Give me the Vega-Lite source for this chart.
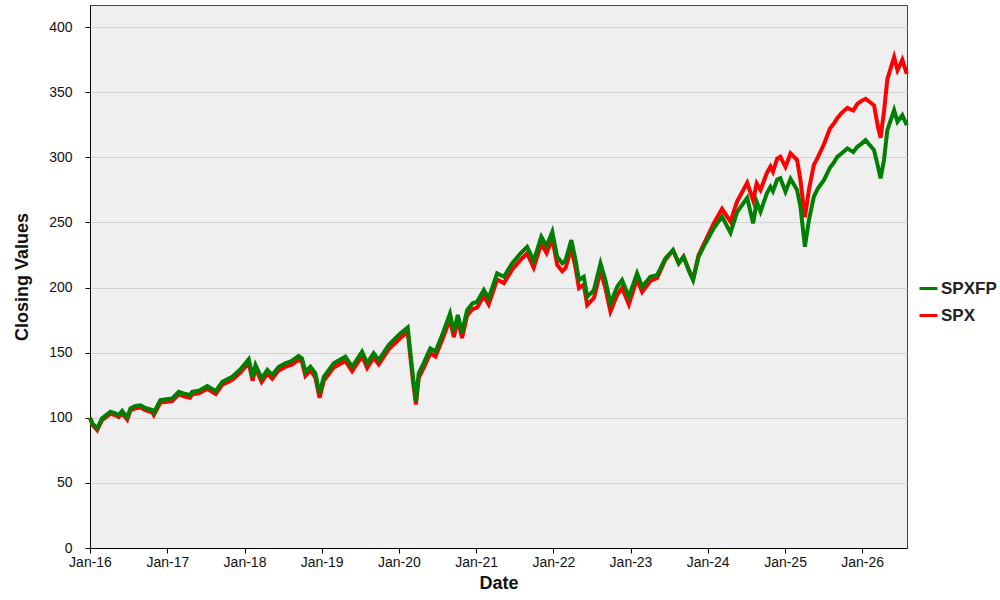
{
 "$schema": "https://vega.github.io/schema/vega-lite/v6.json",
 "width": 817,
 "height": 543,
 "autosize": "none",
 "padding": {"left": 90, "top": 5, "right": 93, "bottom": 52},
 "background": "white",
 "config": {
  "view": {"fill": "#EFEFEF", "stroke": "#444444", "strokeWidth": 1},
  "font": "Liberation Sans",
  "axis": {"labelFont": "Liberation Sans", "titleFont": "Liberation Sans", "labelColor": "#111111", "titleColor": "#111111", "domainColor": "#000000", "tickColor": "#000000", "labelFontSize": 14, "tickSize": 5}
 },
 "data": {"values": [
  {"d":"2016-01-01","SPXFP":100,"SPX":100},
  {"d":"2016-01-13","SPXFP":95.5,"SPX":94.5},
  {"d":"2016-02-04","SPXFP":91.9,"SPX":90.5},
  {"d":"2016-02-27","SPXFP":99.6,"SPX":98.2},
  {"d":"2016-04-07","SPXFP":104.7,"SPX":103.2},
  {"d":"2016-04-30","SPXFP":103.4,"SPX":101.9},
  {"d":"2016-05-16","SPXFP":102.1,"SPX":100.6},
  {"d":"2016-06-01","SPXFP":105.2,"SPX":103.7},
  {"d":"2016-06-25","SPXFP":100.3,"SPX":98.6},
  {"d":"2016-07-10","SPXFP":107.2,"SPX":105.6},
  {"d":"2016-08-03","SPXFP":109,"SPX":107.4},
  {"d":"2016-08-27","SPXFP":109.5,"SPX":107.9},
  {"d":"2016-09-19","SPXFP":107.5,"SPX":105.8},
  {"d":"2016-10-21","SPXFP":106,"SPX":104.2},
  {"d":"2016-10-29","SPXFP":103.9,"SPX":102},
  {"d":"2016-11-29","SPXFP":113.6,"SPX":111.7},
  {"d":"2017-01-24","SPXFP":114.9,"SPX":112.9},
  {"d":"2017-02-24","SPXFP":120,"SPX":118},
  {"d":"2017-03-27","SPXFP":118.2,"SPX":116.1},
  {"d":"2017-04-18","SPXFP":117.5,"SPX":115.4},
  {"d":"2017-04-28","SPXFP":120,"SPX":118},
  {"d":"2017-05-30","SPXFP":120.8,"SPX":118.7},
  {"d":"2017-07-09","SPXFP":124.4,"SPX":122.3},
  {"d":"2017-08-18","SPXFP":120.5,"SPX":118.3},
  {"d":"2017-09-18","SPXFP":127.7,"SPX":125.5},
  {"d":"2017-11-04","SPXFP":131.5,"SPX":129.2},
  {"d":"2017-12-13","SPXFP":137.2,"SPX":134.9},
  {"d":"2018-01-21","SPXFP":144.9,"SPX":142.3},
  {"d":"2018-02-08","SPXFP":131.5,"SPX":128.5},
  {"d":"2018-02-22","SPXFP":140.5,"SPX":137.8},
  {"d":"2018-03-23","SPXFP":130.3,"SPX":127.5},
  {"d":"2018-04-19","SPXFP":136.7,"SPX":133.9},
  {"d":"2018-05-12","SPXFP":132.8,"SPX":130},
  {"d":"2018-06-12","SPXFP":139.2,"SPX":136.4},
  {"d":"2018-07-13","SPXFP":141.8,"SPX":139},
  {"d":"2018-08-14","SPXFP":143.8,"SPX":141},
  {"d":"2018-09-14","SPXFP":147.4,"SPX":144.5},
  {"d":"2018-09-30","SPXFP":145.6,"SPX":142.7},
  {"d":"2018-10-16","SPXFP":135.4,"SPX":132.3},
  {"d":"2018-11-09","SPXFP":139.2,"SPX":136.2},
  {"d":"2018-12-02","SPXFP":134.1,"SPX":131},
  {"d":"2018-12-22","SPXFP":118.5,"SPX":115.3},
  {"d":"2019-01-11","SPXFP":131.5,"SPX":128.4},
  {"d":"2019-02-27","SPXFP":141.8,"SPX":138.7},
  {"d":"2019-04-23","SPXFP":146.9,"SPX":143.7},
  {"d":"2019-05-25","SPXFP":139.2,"SPX":135.8},
  {"d":"2019-07-11","SPXFP":150.7,"SPX":147.4},
  {"d":"2019-08-04","SPXFP":141.8,"SPX":138.3},
  {"d":"2019-09-04","SPXFP":149.5,"SPX":146.2},
  {"d":"2019-09-28","SPXFP":144.3,"SPX":141},
  {"d":"2019-11-14","SPXFP":155.9,"SPX":152.5},
  {"d":"2020-01-08","SPXFP":164.8,"SPX":161.3},
  {"d":"2020-02-12","SPXFP":169.4,"SPX":166},
  {"d":"2020-02-25","SPXFP":149.5,"SPX":146},
  {"d":"2020-03-08","SPXFP":131.5,"SPX":128},
  {"d":"2020-03-22","SPXFP":113,"SPX":110.3},
  {"d":"2020-04-04","SPXFP":134.1,"SPX":130.6},
  {"d":"2020-04-27","SPXFP":141.8,"SPX":138.2},
  {"d":"2020-05-29","SPXFP":153.3,"SPX":149.6},
  {"d":"2020-06-22","SPXFP":150.7,"SPX":147},
  {"d":"2020-07-24","SPXFP":163.5,"SPX":159.7},
  {"d":"2020-08-30","SPXFP":180,"SPX":175.8},
  {"d":"2020-09-17","SPXFP":166,"SPX":162},
  {"d":"2020-10-06","SPXFP":178.9,"SPX":174.8},
  {"d":"2020-10-26","SPXFP":165.5,"SPX":161.3},
  {"d":"2020-11-19","SPXFP":182.7,"SPX":178.5},
  {"d":"2020-12-15","SPXFP":187.9,"SPX":183.5},
  {"d":"2021-01-05","SPXFP":189.1,"SPX":184.6},
  {"d":"2021-02-06","SPXFP":198.1,"SPX":193.5},
  {"d":"2021-03-01","SPXFP":191.7,"SPX":187},
  {"d":"2021-04-10","SPXFP":210.9,"SPX":206.2},
  {"d":"2021-05-12","SPXFP":208.3,"SPX":203.5},
  {"d":"2021-06-20","SPXFP":218.6,"SPX":213.8},
  {"d":"2021-07-30","SPXFP":226.3,"SPX":221.4},
  {"d":"2021-08-30","SPXFP":231.3,"SPX":226.3},
  {"d":"2021-09-30","SPXFP":220.5,"SPX":215.3},
  {"d":"2021-11-05","SPXFP":239,"SPX":233.8},
  {"d":"2021-11-30","SPXFP":232,"SPX":226.5},
  {"d":"2021-12-27","SPXFP":242.9,"SPX":237.5},
  {"d":"2022-01-19","SPXFP":223.6,"SPX":217.6},
  {"d":"2022-02-12","SPXFP":218.6,"SPX":212.5},
  {"d":"2022-02-28","SPXFP":221.1,"SPX":215},
  {"d":"2022-03-27","SPXFP":236.5,"SPX":230.4},
  {"d":"2022-04-16","SPXFP":221.1,"SPX":215},
  {"d":"2022-05-02","SPXFP":205.8,"SPX":199.6},
  {"d":"2022-05-25","SPXFP":208.3,"SPX":202.2},
  {"d":"2022-06-10","SPXFP":192.9,"SPX":186.6},
  {"d":"2022-07-12","SPXFP":198.1,"SPX":192},
  {"d":"2022-08-12","SPXFP":218.6,"SPX":212.5},
  {"d":"2022-09-04","SPXFP":205.8,"SPX":199.7},
  {"d":"2022-09-28","SPXFP":187.9,"SPX":181.6},
  {"d":"2022-10-30","SPXFP":200.6,"SPX":194.5},
  {"d":"2022-11-22","SPXFP":205.8,"SPX":199.8},
  {"d":"2022-12-24","SPXFP":192.9,"SPX":187},
  {"d":"2023-02-01","SPXFP":210.9,"SPX":206.4},
  {"d":"2023-02-25","SPXFP":200.6,"SPX":196.6},
  {"d":"2023-04-05","SPXFP":208.3,"SPX":205},
  {"d":"2023-05-07","SPXFP":209.6,"SPX":207.4},
  {"d":"2023-06-15","SPXFP":222.4,"SPX":221.4},
  {"d":"2023-07-21","SPXFP":228.8,"SPX":228.6},
  {"d":"2023-08-17","SPXFP":218.6,"SPX":218.6},
  {"d":"2023-09-09","SPXFP":223.6,"SPX":223.8},
  {"d":"2023-10-03","SPXFP":213.4,"SPX":213.8},
  {"d":"2023-10-24","SPXFP":205.8,"SPX":206.5},
  {"d":"2023-11-19","SPXFP":223.6,"SPX":224.8},
  {"d":"2023-12-21","SPXFP":233.9,"SPX":235.8},
  {"d":"2024-01-29","SPXFP":245.4,"SPX":249},
  {"d":"2024-03-09","SPXFP":254.5,"SPX":260.5},
  {"d":"2024-04-18","SPXFP":242,"SPX":250.6},
  {"d":"2024-05-19","SPXFP":258,"SPX":266},
  {"d":"2024-07-06","SPXFP":269,"SPX":280.5},
  {"d":"2024-08-03","SPXFP":249.3,"SPX":267},
  {"d":"2024-08-20","SPXFP":265.9,"SPX":280},
  {"d":"2024-09-07","SPXFP":258.3,"SPX":275},
  {"d":"2024-10-07","SPXFP":272.3,"SPX":288},
  {"d":"2024-10-24","SPXFP":277.4,"SPX":293},
  {"d":"2024-11-05","SPXFP":274,"SPX":289},
  {"d":"2024-11-25","SPXFP":283,"SPX":299},
  {"d":"2024-12-10","SPXFP":284,"SPX":300.4},
  {"d":"2025-01-03","SPXFP":273.6,"SPX":292.7},
  {"d":"2025-01-27","SPXFP":283.5,"SPX":303},
  {"d":"2025-02-27","SPXFP":275,"SPX":298},
  {"d":"2025-03-15","SPXFP":262,"SPX":282.5},
  {"d":"2025-04-05","SPXFP":231.3,"SPX":254},
  {"d":"2025-04-24","SPXFP":251.8,"SPX":275},
  {"d":"2025-05-17","SPXFP":269.7,"SPX":294},
  {"d":"2025-06-05","SPXFP":276,"SPX":300},
  {"d":"2025-07-04","SPXFP":282.5,"SPX":310},
  {"d":"2025-08-01","SPXFP":292,"SPX":322},
  {"d":"2025-08-20","SPXFP":296,"SPX":326},
  {"d":"2025-09-05","SPXFP":300.4,"SPX":330},
  {"d":"2025-09-25","SPXFP":303,"SPX":334},
  {"d":"2025-10-23","SPXFP":306.9,"SPX":338},
  {"d":"2025-11-20","SPXFP":304,"SPX":336},
  {"d":"2025-12-09","SPXFP":308.1,"SPX":341},
  {"d":"2025-12-25","SPXFP":310,"SPX":343},
  {"d":"2026-01-17","SPXFP":313.2,"SPX":345},
  {"d":"2026-02-26","SPXFP":305.6,"SPX":340},
  {"d":"2026-03-17","SPXFP":292.7,"SPX":323},
  {"d":"2026-03-29","SPXFP":283.8,"SPX":315},
  {"d":"2026-04-14","SPXFP":297.9,"SPX":335},
  {"d":"2026-04-30","SPXFP":320.9,"SPX":360},
  {"d":"2026-06-01","SPXFP":336.3,"SPX":377},
  {"d":"2026-06-17","SPXFP":327.3,"SPX":367},
  {"d":"2026-07-10","SPXFP":332.4,"SPX":375},
  {"d":"2026-07-31","SPXFP":324.8,"SPX":364}
 ]},
 "encoding": {
  "x": {
   "field": "d", "type": "temporal",
   "scale": {"type": "utc", "domain": [{"year": 2016, "month": 1, "date": 1, "utc": true}, {"year": 2026, "month": 8, "date": 1, "utc": true}]},
   "axis": {
    "values": [
     {"year": 2016, "month": 1, "date": 1, "utc": true},
     {"year": 2017, "month": 1, "date": 1, "utc": true},
     {"year": 2018, "month": 1, "date": 1, "utc": true},
     {"year": 2019, "month": 1, "date": 1, "utc": true},
     {"year": 2020, "month": 1, "date": 1, "utc": true},
     {"year": 2021, "month": 1, "date": 1, "utc": true},
     {"year": 2022, "month": 1, "date": 1, "utc": true},
     {"year": 2023, "month": 1, "date": 1, "utc": true},
     {"year": 2024, "month": 1, "date": 1, "utc": true},
     {"year": 2025, "month": 1, "date": 1, "utc": true},
     {"year": 2026, "month": 1, "date": 1, "utc": true}
    ],
    "labelExpr": "utcFormat(datum.value, '%b-%y')",
    "grid": false, "labelFlush": false, "labelOverlap": false, "labelPadding": 2,
    "title": "Date", "titleFontSize": 18, "titleFontWeight": "bold",
    "titleX": 408.5, "titleY": 35, "titleBaseline": "middle", "titleAlign": "center"
   }
  }
 },
 "layer": [
  {
   "mark": {"type": "line", "strokeWidth": 4, "strokeJoin": "miter"},
   "encoding": {
    "y": {
     "field": "SPX", "type": "quantitative",
     "scale": {"domain": [0, 417], "nice": false, "zero": true},
     "axis": {
      "values": [0, 50, 100, 150, 200, 250, 300, 350, 400],
      "grid": true, "gridColor": "#D2D2D2", "gridWidth": 1,
      "labelPadding": 13,
      "title": "Closing Values", "titleFontSize": 18, "titleFontWeight": "bold",
      "titleX": -68, "titleY": 271.5, "titleAngle": -90, "titleAlign": "center", "titleBaseline": "middle"
     }
    },
    "color": {
     "datum": "SPX",
     "scale": {"domain": ["SPXFP", "SPX"], "range": ["#008000", "#FF0000"]},
     "legend": {
      "orient": "none", "legendX": 828, "legendY": 273, "title": null,
      "symbolType": "stroke", "symbolSize": 324, "symbolStrokeWidth": 3,
      "labelFont": "Liberation Sans", "labelFontSize": 17, "labelFontWeight": "bold", "labelColor": "#222222",
      "rowPadding": 8, "labelOffset": 2
     }
    }
   }
  },
  {
   "mark": {"type": "line", "strokeWidth": 4, "strokeJoin": "miter"},
   "encoding": {
    "y": {"field": "SPXFP", "type": "quantitative", "title": "Closing Values"},
    "color": {"datum": "SPXFP"}
   }
  }
 ]
}
